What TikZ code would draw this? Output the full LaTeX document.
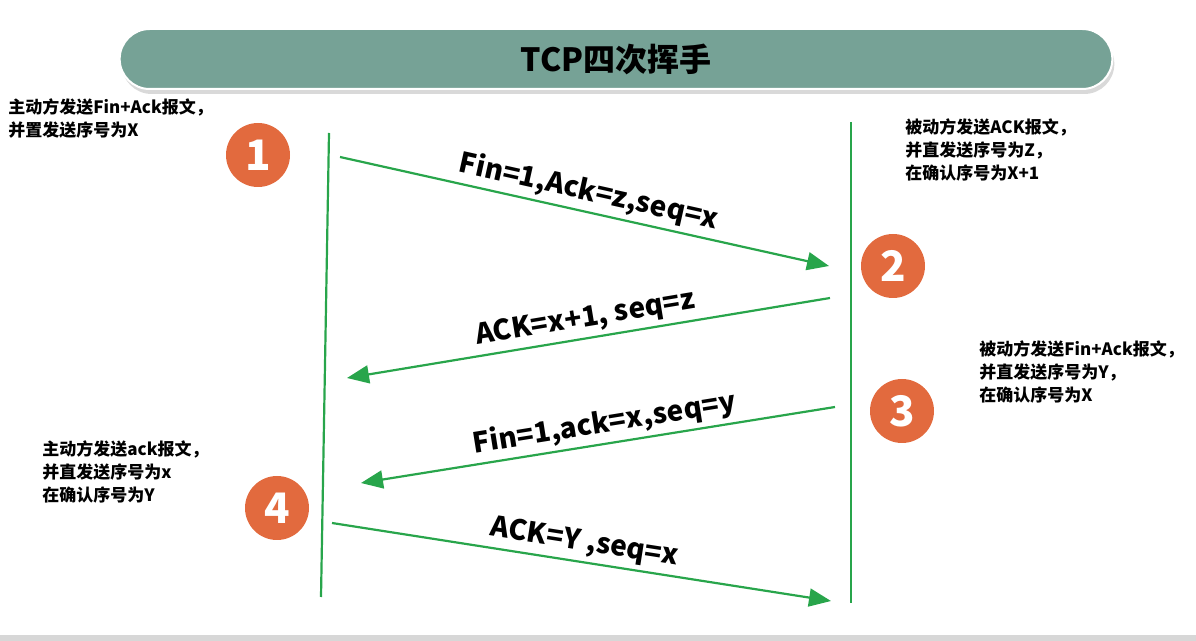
\documentclass[tikz,border=0pt]{standalone}
\usepackage{fontspec}
\setmainfont{Noto Sans CJK SC}
\usetikzlibrary{arrows.meta, shapes.misc, positioning}
\definecolor{barteal}{RGB}{118,162,150}
\definecolor{lifegreen}{RGB}{40,165,75}
\definecolor{steporange}{RGB}{226,106,62}
\definecolor{bandgray}{RGB}{215,215,215}

\begin{document}
\begin{tikzpicture}[x=0.5pt, y=-0.5pt,
        titlebar/.style={rounded rectangle, fill=barteal, draw=white, line width=1pt, minimum width=503pt, minimum height=30pt, font=\bfseries\fontsize{16}{20}\selectfont},
        stepmark/.style={circle, fill=steporange, minimum size=32pt, inner sep=0pt, text=white, font=\bfseries\fontsize{21}{24}\selectfont},
        note/.style={align=left, anchor=north west, inner sep=0pt, font=\bfseries\fontsize{8.5}{11.5}\selectfont},
        lifeline/.style={draw=lifegreen, line width=1.1pt},
        msg/.style={draw=lifegreen, line width=1.1pt, -{Triangle[length=11pt, width=9pt]}},
        msglabel/.style={above, sloped, inner sep=2pt, font=\bfseries\fontsize{14}{16}\selectfont}
    ]
        \useasboundingbox (0,0) rectangle (1196,641);
        \fill[bandgray] (0,635) rectangle (1196,641);
        % title bar
        \node[titlebar, fill=black!15, draw=none] (shadow) at (618,64) {};
        \node[titlebar] (title) at (616,59) {TCP四次挥手};
        % lifelines
        \coordinate (ltop) at (329,133);
        \coordinate (lbot) at (321,597);
        \coordinate (rtop) at (851,122);
        \coordinate (rbot) at (851,603);
        \draw[lifeline] (ltop) -- (lbot);
        \draw[lifeline] (rtop) -- (rbot);
        % step marks
        \node[stepmark] (s1) at (258,155) {1};
        \node[stepmark] (s2) at (893,266) {2};
        \node[stepmark] (s3) at (902,411) {3};
        \node[stepmark] (s4) at (277,508) {4};
        % notes
        \node[note] (n1) at (8,98) {主动方发送Fin+Ack报文，\\并置发送序号为X};
        \node[note] (n2) at (905,118) {被动方发送ACK报文，\\并直发送序号为Z，\\在确认序号为X+1};
        \node[note] (n3) at (979,340) {被动方发送Fin+Ack报文，\\并直发送序号为Y，\\在确认序号为X};
        \node[note] (n4) at (42,440) {主动方发送ack报文，\\并直发送序号为x\\在确认序号为Y};
        % messages
        \coordinate (m1a) at (340,157);
        \coordinate (m1b) at (829,266);
        \coordinate (m2a) at (830,298);
        \coordinate (m2b) at (347,378);
        \coordinate (m3a) at (835,407);
        \coordinate (m3b) at (361,483);
        \coordinate (m4a) at (332,523);
        \coordinate (m4b) at (831,601);
        \draw[msg] (m1a) -- node[msglabel] {Fin=1,Ack=z,seq=x} (m1b);
        \draw[msg] (m2a) -- node[msglabel] {ACK=x+1, seq=z} (m2b);
        \draw[msg] (m3a) -- node[msglabel, pos=0.48] {Fin=1,ack=x,seq=y} (m3b);
        \draw[msg] (m4a) -- node[msglabel] {ACK=Y ,seq=x} (m4b);
    \end{tikzpicture}
\end{document}
